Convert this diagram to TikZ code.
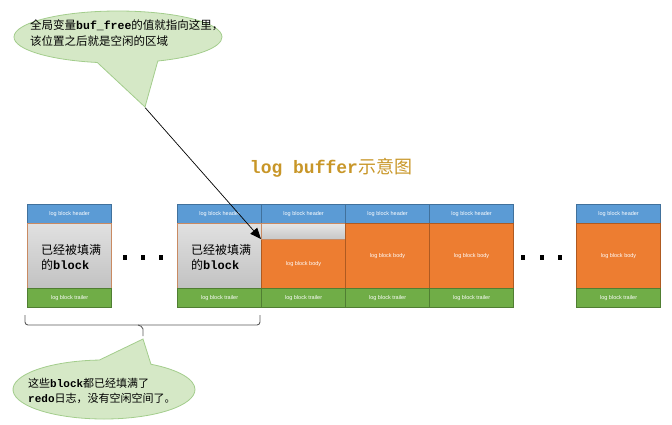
\documentclass[tikz,border=0pt]{standalone}
\usepackage{fontspec}
\setmainfont{Liberation Sans}
\newfontfamily\cjk{Noto Sans CJK SC}
\newfontfamily\lat{Liberation Mono}
\usetikzlibrary{shapes.callouts,arrows.meta}
\definecolor{hdrfill}{HTML}{5B9BD5}
\definecolor{hdrdraw}{HTML}{41719C}
\definecolor{bodyfill}{HTML}{ED7D31}
\definecolor{bodydraw}{HTML}{AE5A21}
\definecolor{trlfill}{HTML}{70AD47}
\definecolor{trldraw}{HTML}{507E32}
\definecolor{graydraw}{HTML}{C98A62}
\definecolor{callfill}{HTML}{D5E8C6}
\definecolor{calldraw}{HTML}{A3CD8C}
\definecolor{titlecol}{RGB}{200,150,40}
\definecolor{bracecol}{HTML}{5A5A5A}
\tikzset{
  part/.style={draw, line width=1.2pt, anchor=north west, minimum width=84pt, inner sep=0pt,
    text=white, font=\fontsize{5.5}{6}\selectfont},
  hdr/.style={part, fill=hdrfill, draw=hdrdraw, minimum height=19pt},
  trl/.style={part, fill=trlfill, draw=trldraw, minimum height=19pt},
  bodyo/.style={part, fill=bodyfill, draw=bodydraw, minimum height=65pt},
  bodyg/.style={part, top color=white!88!black, bottom color=white!76!black, draw=graydraw, line width=0.8pt, minimum height=65pt},
  dotbox/.style={fill=black, inner sep=0pt, minimum width=4pt, minimum height=5pt},
  callbubble/.style={ellipse callout, fill=callfill, draw=calldraw, line width=0.8pt, callout pointer arc=34},
  calltext/.style={anchor=west, align=left, inner sep=0pt, font=\cjk\fontsize{11.5}{16}\selectfont},
  fulltext/.style={anchor=west, align=left, inner sep=0pt, font=\cjk\fontsize{12}{15}\selectfont},
}
\newcommand{\mb}[1]{{\lat\bfseries #1}}
\begin{document}
\begin{tikzpicture}[x=1pt,y=-1pt]
\useasboundingbox (0,0) rectangle (672,424);

% title
\node[text=titlecol, font=\cjk\fontsize{18}{20}\selectfont, inner sep=0pt] (title) at (331,168) {\mb{log buffer}示意图};

% block 1
\node[hdr] (h1) at (27,204) {log block header};
\node[bodyg] (b1) at (27,223) {};
\node[trl] (t1) at (27,288) {log block trailer};
\node[fulltext] (f1) at (41,257) {已经被填满\\的\mb{block}};

% dots 1
\node[dotbox] (d1) at (125,257) {};
\node[dotbox] (d2) at (143,257) {};
\node[dotbox] (d3) at (161,257) {};

% block 2
\node[hdr] (h2) at (177,204) {log block header};
\node[bodyg] (b2) at (177,223) {};
\node[trl] (t2) at (177,288) {log block trailer};
\node[fulltext] (f2) at (191,257) {已经被填满\\的\mb{block}};

% block 3
\node[hdr] (h3) at (261,204) {log block header};
\node[bodyo, minimum height=49pt] (b3) at (261,239) {log block body};
\node[part, top color=white!90!black, bottom color=white!78!black, draw=graydraw, line width=0.8pt, minimum height=16pt] (g3) at (261,223) {};
\node[trl] (t3) at (261,288) {log block trailer};

% block 4
\node[hdr] (h4) at (345,204) {log block header};
\node[bodyo] (b4) at (345,223) {log block body};
\node[trl] (t4) at (345,288) {log block trailer};

% block 5
\node[hdr] (h5) at (429,204) {log block header};
\node[bodyo] (b5) at (429,223) {log block body};
\node[trl] (t5) at (429,288) {log block trailer};

% dots 2
\node[dotbox] (d4) at (523,257) {};
\node[dotbox] (d5) at (542,257) {};
\node[dotbox] (d6) at (560,257) {};

% block 6
\node[hdr] (h6) at (576,204) {log block header};
\node[bodyo] (b6) at (576,223) {log block body};
\node[trl] (t6) at (576,288) {log block trailer};

% top callout
\node[callbubble, minimum width=208pt, minimum height=52pt, callout absolute pointer={(145,107)}] (c1) at (118,37) {};
\node[calltext] (ct1) at (30,33) {全局变量\mb{buf\_free}的值就指向这里，\\该位置之后就是空闲的区域};
\draw[line width=0.7pt, -{Triangle[length=11pt,width=9pt]}] (c1.pointer) -- (b3.north west);

% brace
\coordinate (bl) at (25,315);
\coordinate (br) at (260,315);
\coordinate (bm) at (143,336);
\draw[bracecol, line width=0.9pt, rounded corners=3pt] (bl) -- (25,325) -- (260,325) -- (br);
\draw[bracecol, line width=0.9pt, rounded corners=2pt] (138,325) -- (143,327) -- (bm);

% bottom callout
\node[callbubble, minimum width=182pt, minimum height=59pt, callout absolute pointer={(143,339)}] (c2) at (104,389.5) {};
\node[calltext, font=\cjk\fontsize{11}{15}\selectfont] (ct2) at (28,391) {这些\mb{block}都已经填满了\\\mb{redo}日志，没有空闲空间了。};
\end{tikzpicture}
\end{document}
